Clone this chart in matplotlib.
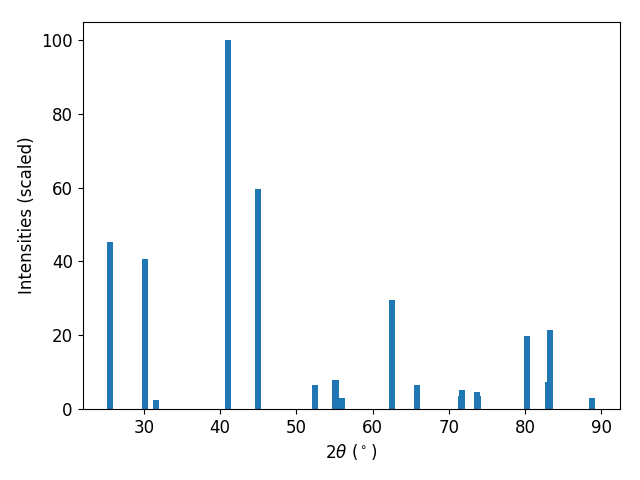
import matplotlib
matplotlib.use("Agg")
import matplotlib.pyplot as plt

# peak positions (2theta, degrees) and scaled intensities
two_theta = [25.57, 30.17, 31.62, 41.08, 45.02, 52.5, 55.14, 55.93,
             62.5, 65.78, 71.56, 71.7, 73.67, 73.8, 80.24, 83.0, 83.26, 88.78]
intensity = [45.3, 40.6, 2.4, 100.0, 59.5, 6.5, 7.9, 3.0,
             29.5, 6.5, 3.5, 5.1, 4.6, 3.5, 19.8, 7.3, 21.4, 3.0]

plt.rcParams['font.size'] = 12
fig, ax = plt.subplots(figsize=(6.4, 4.8), dpi=100)
ax.bar(two_theta, intensity, width=0.8, color='#1f77b4')
ax.set_xlabel(r'$2\theta$ ($^\circ$)')
ax.set_ylabel('Intensities (scaled)')
fig.subplots_adjust(left=0.129, right=0.968, top=0.955, bottom=0.148)
fig.savefig('out.png')
